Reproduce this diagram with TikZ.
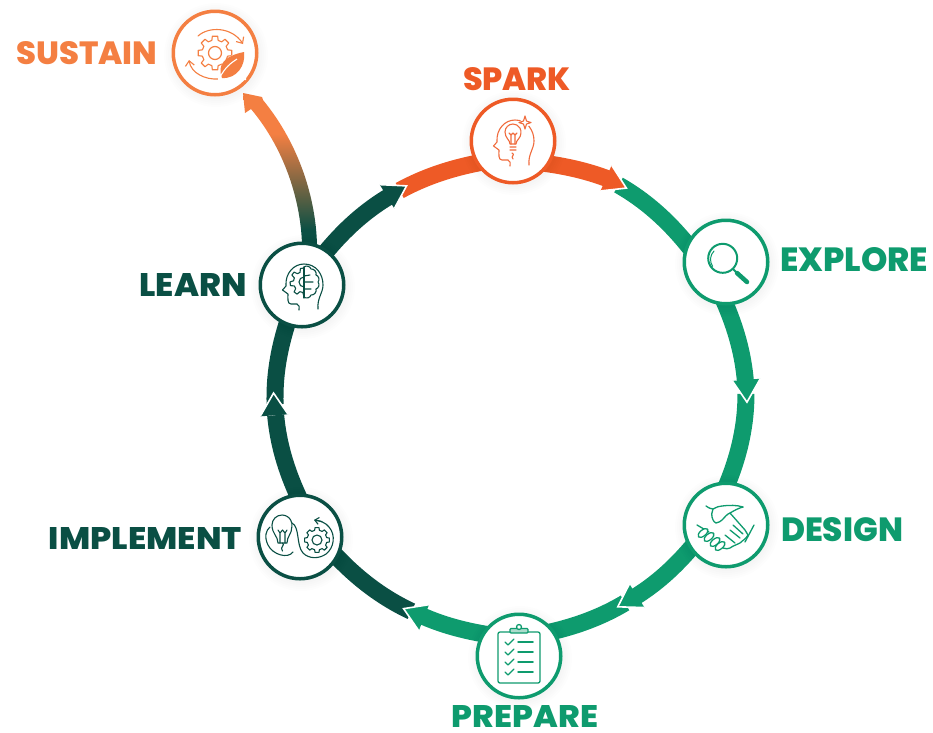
\documentclass[tikz,border=0pt]{standalone}
\usepackage{fontspec}
\setmainfont{Poppins}[BoldFont={Poppins ExtraBold}]
\usetikzlibrary{backgrounds,arrows.meta,calc}
\definecolor{cspark}{HTML}{EE5A26}
\definecolor{csust}{HTML}{F47F42}
\definecolor{cgreen}{HTML}{0E9B6E}
\definecolor{cdark}{HTML}{0A4F44}
\pgfdeclareradialshading{glow}{\pgfpoint{0bp}{0bp}}{color(0bp)=(white); color(30bp)=(white); color(50bp)=(black!6); color(100bp)=(black!6)}
\pgfdeclareverticalshading{sustfade}{100bp}{color(0bp)=(cdark); color(31bp)=(cdark); color(62bp)=(csust); color(100bp)=(csust)}
\newcommand\lbl[3]{\resizebox{#1pt}{#2pt}{\bfseries #3}}
\newcommand\gearpath[2]{(-9:#1) \foreach \i in {0,45,...,315}{ -- (\i-9:#1) -- (\i+9:#1) -- (\i+14:#2) -- (\i+31:#2)} -- cycle}
\newcommand\headpath{(-3,-25) .. controls (-2,-22) and (-3,-20) .. (-5,-19) -- (-11,-19) .. controls (-15,-19) and (-14,-13) .. (-14,-9) -- (-19.5,-5) -- (-16,-1) .. controls (-17,12) and (-8,21) .. (2,21) .. controls (14,21) and (21,11) .. (21,0) .. controls (21,-8) and (15,-13) .. (16,-24)}
\tikzset{
  x=1pt,y=1pt,
  stepnode/.style={circle,draw=#1,line width=3.5pt,minimum size=83.5pt,inner sep=0pt,shading=glow},
  stem/.style={line width=17pt,draw=#1,line cap=butt,looseness=.85},
  tolink/.style={shorten >=-6pt},
  fromlink/.style={shorten <=-6pt},
  steplabel/.style={text=#1,inner sep=0pt},
  icon/.style={draw=#1,line width=1.1pt,line cap=round,line join=round},
}
% angle of tip, radius of tip, colour
\newcommand\ringhead[3]{%
  \fill[#3] (#1:#2) -- (#1+5.4:#2+14) -- (#1+5.4:#2-14) -- cycle;
  \draw[white,line width=1.6pt] (#1+5.4:#2+14) -- (#1:#2) -- (#1+5.4:#2-14);}
\begin{document}
\begin{tikzpicture}
\useasboundingbox (0,0) rectangle (933,-732);
% step circles
\node[stepnode=cspark] (spark) at (513,-141) {};
\node[stepnode=cgreen] (explore) at (726,-262) {};
\node[stepnode=cgreen] (design) at (726,-525) {};
\node[stepnode=cgreen] (prepare) at (519,-656) {};
\node[stepnode=cdark] (implement) at (300,-537) {};
\node[stepnode=cdark] (learn) at (302,-285) {};
\node[stepnode=csust] (sustain) at (215,-53) {};
% labels
\node[steplabel=csust] (lsustain) at (87,-53) {\lbl{141}{23}{SUSTAIN}};
\node[steplabel=cspark] (lspark) at (517,-79.5) {\lbl{108}{23}{SPARK}};
\node[steplabel=cgreen] (lexplore) at (854,-260) {\lbl{148}{24}{EXPLORE}};
\node[steplabel=cgreen] (ldesign) at (842,-530) {\lbl{122}{24}{DESIGN}};
\node[steplabel=cgreen] (lprepare) at (525,-716.5) {\lbl{146}{22}{PREPARE}};
\node[steplabel=cdark] (limplement) at (145.5,-538) {\lbl{193}{22}{IMPLEMENT}};
\node[steplabel=cdark] (llearn) at (193,-284.5) {\lbl{107}{23}{LEARN}};
\begin{scope}[shift={(510,-398)}]
  \coordinate (b1) at (66:240);   \coordinate (s1) at (63:239);
  \coordinate (b2) at (4:236);    \coordinate (s2) at (1:236);
  \coordinate (b3) at (-57.7:235);\coordinate (s3) at (-60.7:235);
  \coordinate (b4) at (-111.8:235);\coordinate (s4) at (-114.8:235);
  \coordinate (b5) at (184.2:235);  \coordinate (s5) at (181.5:235);
  \coordinate (b6) at (121:235);  \coordinate (s6) at (118:235);
\end{scope}
\coordinate (sustaintip) at (243,-93);
\begin{pgfonlayer}{background}
  % ring
  \draw[stem=cspark,tolink] (s6) to[bend left=9] (spark.211);
  \draw[stem=cspark,fromlink] (spark.328) to[bend left=6.5] (b1);
  \draw[stem=cgreen,tolink] (s1) to[bend left=11] (explore.155);
  \draw[stem=cgreen,fromlink] (explore.270) to[bend left=9.5] (b2);
  \draw[stem=cgreen,tolink] (s2) to[bend left=11.5] (design.87);
  \draw[stem=cgreen,fromlink] (design.214) to[bend left=9] (b3);
  \draw[stem=cgreen,tolink] (s3) to[bend left=9] (prepare.35);
  \draw[stem=cgreen,fromlink] (prepare.149) to[bend left=7] (b4);
  \draw[stem=cdark,tolink] (s4) to[bend left=11] (implement.331);
  \draw[stem=cdark,fromlink] (implement.94) to[bend left=10] (b5);
  \draw[stem=cdark,tolink] (s5) to[bend left=10] (learn.249);
  \draw[stem=cdark,fromlink] (learn.54) to[bend left=10] (b6);
  \begin{scope}[shift={(510,-398)}]
    \ringhead{61}{240}{cspark}
    \ringhead{-1}{237}{cgreen}
    \ringhead{-62.7}{235}{cgreen}
    \ringhead{-116.8}{236}{cgreen}
    \ringhead{178.8}{236.5}{cdark}
    \ringhead{116}{236}{cdark}
  \end{scope}
  % arrow from learn to sustain
  \shade[shading=sustfade] ($(learn.90)+(0,-5)$) -- (302,-245)
     .. controls (301,-205) and (287,-152) .. (251,-109)
     -- (245,-113) -- (sustaintip) -- (262,-97) -- (263,-100)
     .. controls (300,-145) and (316,-200) .. (317,-245) -- ($(learn.70)+(0,-5)$) -- cycle;
  % soft shadows
  \foreach \n in {spark,explore,design,prepare,implement,learn,sustain}
    \foreach \r in {44,46,48,50,52}
      \fill[black,opacity=.008] ($(\n)+(1,-2)$) circle (\r);
\end{pgfonlayer}
% ---- icons ----
% spark: head with bulb
\begin{scope}[shift={(spark.center)}]
  \draw[icon=cspark!90] \headpath;
  \draw[icon=cspark!90] (-3,-3) .. controls (-3,1) and (-8,3) .. (-8,9) arc[start angle=180,end angle=-10,radius=8] .. controls (8,3) and (3,1) .. (3,-3) -- cycle;
  \draw[icon=cspark!90] (-3,-6) -- (3,-6) (-3,-9) -- (3,-9) (-1,-12) .. controls (3,-14) and (-3,-15) .. (0,-18);
  \draw[icon=cspark!90] (-2,-3) -- (-2,6) -- (-4,8) (2,-3) -- (2,6) -- (4,8) (-2,6) -- (0,8) -- (2,6);
  \fill[white] (12,18.5) circle (5);
  \draw[icon=cspark!90] (12,25) -- (13.5,20) -- (18,18.5) -- (13.5,17) -- (12,12) -- (10.5,17) -- (6,18.5) -- (10.5,20) -- cycle;
\end{scope}
% explore: magnifier
\begin{scope}[shift={(explore.center)}]
  \draw[icon=cgreen,line width=2pt] (-3.3,3.7) circle (14.5);
  \draw[icon=cgreen,line width=1pt] (-12,11) arc[start angle=135,end angle=215,radius=12];
  \draw[icon=cgreen,line width=2pt] (7,-7) -- (11,-11);
  \draw[icon=cgreen,line width=4.5pt] (11,-11) -- (21,-20);
\end{scope}
% design: handshake
\begin{scope}[shift={(design.center)}]
  \draw[icon=cgreen,line width=1.3pt] (-20,19) .. controls (-17,17) and (-15,16) .. (-13,16) .. controls (-9,18) and (-7,19) .. (-4,19) .. controls (3,20) and (11,20) .. (17,18);
  \draw[icon=cgreen,line width=1.3pt] (-13,16) .. controls (-14,12) and (-15,10) .. (-14,8) .. controls (-13,4) and (-11,2) .. (-10,2) .. controls (-7,2) and (-6,4) .. (-4,5) .. controls (-1,8) and (1,11) .. (4,12) -- (19,-5) -- (22,-10) .. controls (20,-14) and (17,-15) .. (14,-18) .. controls (11,-20) and (8,-20) .. (4,-23) .. controls (2,-24) and (0,-24) .. (-3,-23);
  \draw[icon=cgreen,line width=1.3pt] (4,12) .. controls (9,15) and (13,17) .. (17,18);
  \draw[icon=cgreen,line width=1.3pt] (-29,0) -- (-17,-7);
  \draw[icon=cgreen,line width=1.3pt] (28,0) -- (19,-17);
  \draw[icon=cgreen,line width=1.3pt] (4,-5) -- (14,-13) (-1,-10) -- (9,-18) (7,0) -- (17,-9);
  \foreach \p in {(-23,-8),(-17,-12),(-11,-17),(-6,-21)}
    \draw[icon=cgreen,line width=1.3pt,fill=white,rotate around={40:\p}] \p ellipse (6 and 3);
\end{scope}
% prepare: clipboard
\begin{scope}[shift={(prepare.center)}]
  \draw[icon=cgreen,line width=1.3pt,rounded corners=2pt] (-21,24) rectangle (21,-27);
  \draw[icon=cgreen,line width=1.3pt,fill=cgreen!35,rounded corners=1pt] (-9,27.5) rectangle (9,23);
  \draw[icon=cgreen,line width=1.3pt,fill=white] (0,29) circle (2.5);
  \foreach \y in {14,4,-6,-16}{
    \draw[icon=cgreen,line width=1.3pt] (-14,\y) -- (-11,\y-3) -- (-5,\y+3);
    \draw[icon=cgreen,line width=1.5pt] (-1,\y) -- (14,\y);
  }
\end{scope}
% implement: bulb, gear
\begin{scope}[shift={(implement.center)}]
  \draw[icon=cdark] (-7,-15) .. controls (-12,-22) and (-27,-18) .. (-32,-8) .. controls (-36,0) and (-34,7) .. (-30,10);
  \draw[icon=cdark] (-22,-6) .. controls (-22,1) and (-28,3) .. (-28,12) arc[start angle=180,end angle=-10,radius=10] .. controls (-8,3) and (-13,1) .. (-13,-6) -- cycle;
  \draw[icon=cdark] (-8,14) .. controls (0,10) and (-4,-8) .. (3,-16) .. controls (9,-22) and (19,-22) .. (26,-17) .. controls (34,-11) and (36,2) .. (29,10) .. controls (26,14) and (21,16) .. (15,17);
  \draw[icon=cdark,-{Straight Barb[length=4pt,width=7pt]}] (22,15.5) -- (14,17);
  \draw[icon=cdark] (-20,-6) -- (-20,4) -- (-22,7) (-15,-6) -- (-15,4) -- (-13,7) (-20,4) -- (-17.5,7) -- (-15,4);
  \draw[icon=cdark] (-17.5,-6) .. controls (-14,-8) and (-21,-10) .. (-17.5,-14);
  \begin{scope}[shift={(17,-3)}]
    \draw[icon=cdark] \gearpath{12.5}{10};
    \draw[icon=cdark] (0,0) circle (5);
  \end{scope}
\end{scope}
% learn: head with half gear and half brain
\begin{scope}[shift={(learn.center)}]
  \draw[icon=cdark] \headpath;
  \begin{scope}[shift={(2,3)}]
    \draw[icon=cdark] (90:14) -- (105:14) -- (112:10.5) -- (128:10.5) -- (135:14) -- (150:14) -- (157:10.5) -- (173:10.5) -- (180:14) -- (195:14) -- (202:10.5) -- (218:10.5) -- (225:14) -- (240:14) -- (247:10.5) -- (263:10.5) -- (270:14);
    \draw[icon=cdark] (0,5) arc[start angle=90,end angle=270,radius=5];
    \draw[icon=cdark] (0,15) -- (0,-16);
  \end{scope}
  \draw[icon=cdark] (2,18) to[bend left=60] (9,16) to[bend left=60] (14,10) to[bend left=60] (16,3) to[bend left=60] (14,-4) to[bend left=60] (9,-10) to[bend left=60] (2,-12);
  \draw[icon=cdark] (2,9) -- (8,10) (2,3) -- (11,3) (2,-4) -- (9,-4);
\end{scope}
% sustain: gear, arrows, leaf
\begin{scope}[shift={(sustain.center)}]
  \draw[icon=csust] \gearpath{17}{13};
  \draw[icon=csust,line width=1.2pt] (0,0) circle (6.5);
  \draw[icon=csust,-{Straight Barb[length=5pt,width=9pt]}] (-17,17) .. controls (-6,27) and (17,26) .. (28,9);
  \draw[icon=csust,-{Straight Barb[length=5pt,width=9pt]}] (4,-26) .. controls (-10,-27) and (-24,-20) .. (-26,-7);
  \fill[white] (3,-27) .. controls (3,-8) and (14,-2) .. (31,3) -- (31,-27) -- cycle;
  \fill[csust] (7,-25) .. controls (2,-12) and (9,-3) .. (29,1) .. controls (31,-12) and (22,-26) .. (7,-25) -- cycle;
  \draw[white,line width=1.1pt] (4,-26) .. controls (10,-14) and (16,-10) .. (22,-6);
\end{scope}
\end{tikzpicture}
\end{document}
